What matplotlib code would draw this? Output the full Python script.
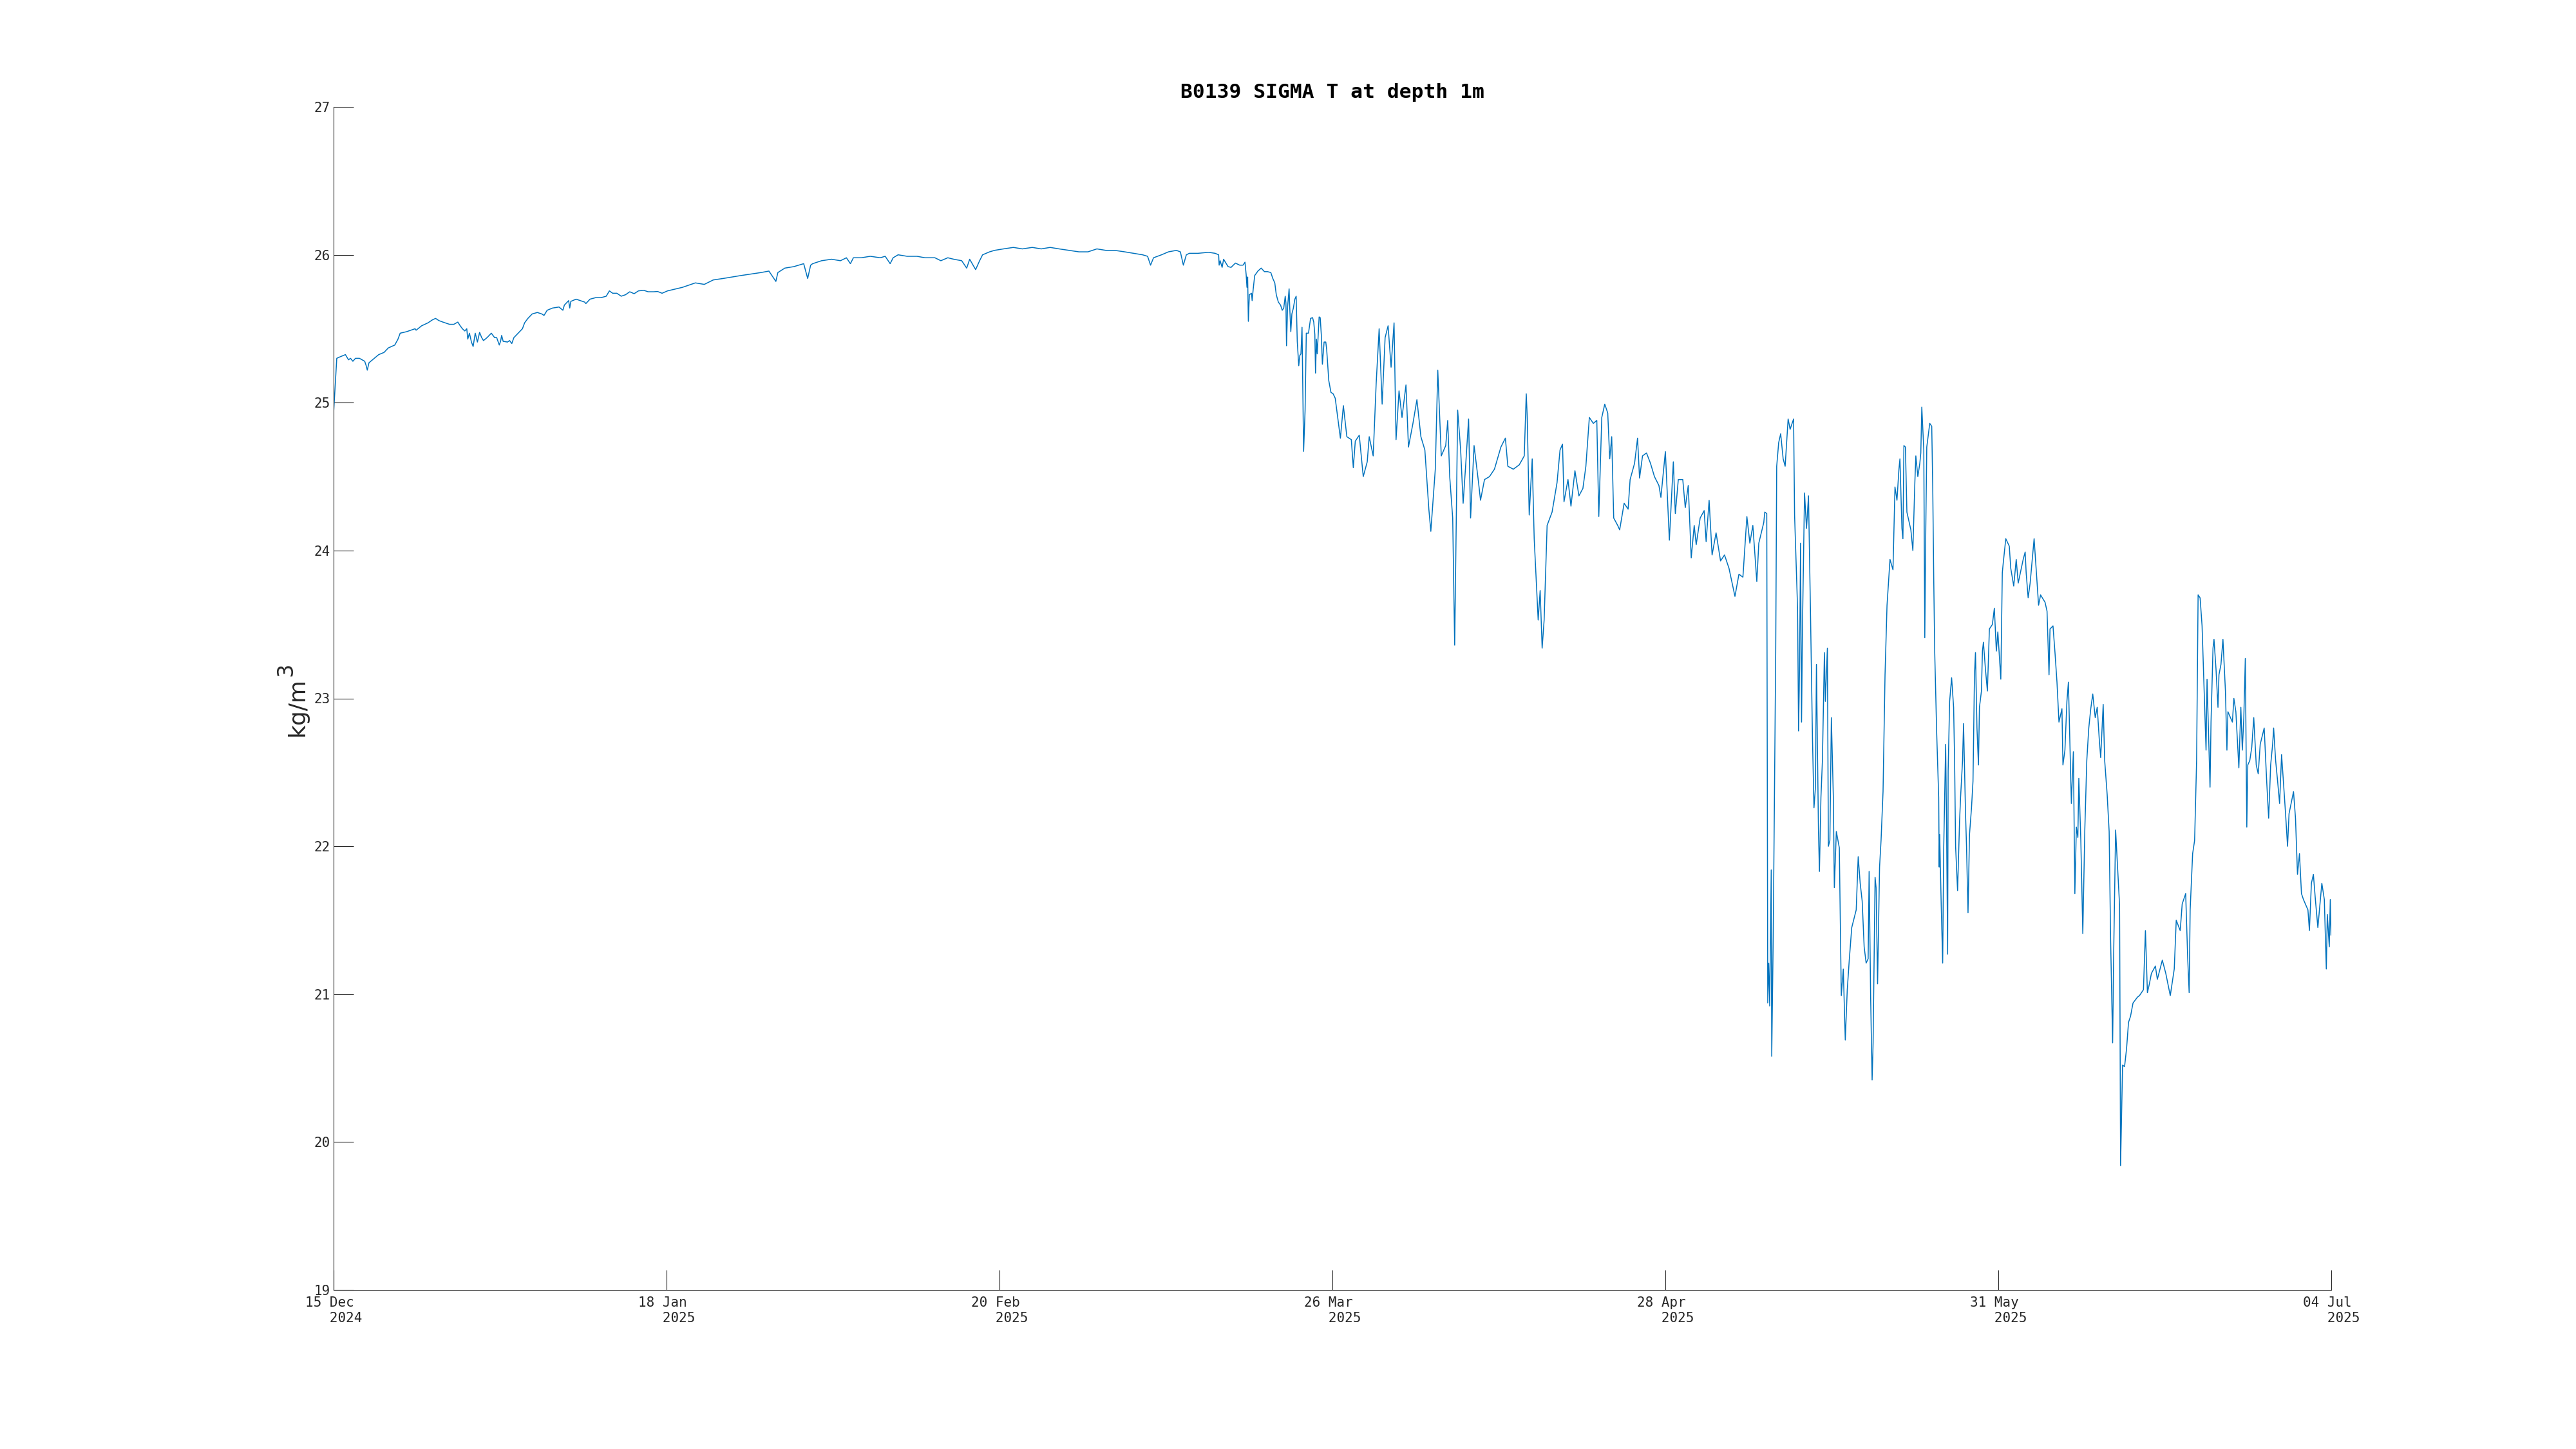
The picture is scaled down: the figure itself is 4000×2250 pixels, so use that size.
import numpy as np
import pandas as pd
import matplotlib
matplotlib.use('Agg')
import matplotlib.pyplot as plt

# sigma-t readings: days since 15 Dec 2024, value in kg/m3
start = pd.Timestamp('2024-12-15')
end = pd.Timestamp('2025-07-04')
days = [
    0.0, 0.32, 0.65, 1.19, 1.5, 1.7, 1.94, 2.2, 2.6, 3.13, 3.28, 3.39, 3.56, 4.1, 4.54, 5.08, 5.5, 6.16, 6.48, 6.7,
    7.34, 8.2, 8.3, 8.86, 9.5, 9.94, 10.26, 10.6, 11.0, 11.66, 12.1, 12.5, 12.74, 12.96, 13.2, 13.4, 13.5, 13.67, 13.87, 14.04,
    14.25, 14.47, 14.69, 14.9, 15.08, 15.44, 15.87, 16.2, 16.41, 16.67, 16.8, 16.91, 17.06, 17.5, 17.71, 17.93, 18.14, 18.57, 19.0, 19.22,
    19.55, 19.98, 20.5, 20.95, 21.17, 21.49, 22.03, 22.68, 23.07, 23.22, 23.65, 23.76, 23.87, 24.4, 24.84, 25.27, 25.38, 25.8, 26.35, 26.9,
    27.43, 27.75, 28.08, 28.5, 28.94, 29.37, 29.8, 30.24, 30.67, 31.2, 31.65, 32.2, 32.6, 33.05, 33.6,
    35.1, 36.4, 37.3, 38.2, 39.2, 40.1, 41.0, 42.0, 43.0, 43.8, 44.5, 44.7, 45.4, 46.3, 47.3, 47.7, 48.0, 48.2, 49.1, 50.1,
    51.0, 51.6, 52.0, 52.3, 53.1, 54.0, 55.0, 55.5, 56.0, 56.3, 56.8, 57.7, 58.7, 59.5, 60.5, 61.1, 61.8, 62.4, 63.2, 63.7,
    64.0, 64.6, 65.0, 65.3, 66.0, 66.5, 67.4, 68.4, 69.3, 70.3, 71.2, 72.1, 73.0, 74.0, 75.0, 75.9, 76.8, 77.7, 78.6, 79.6,
    80.5, 81.4, 81.9, 82.2, 82.5, 83.3, 84.0, 84.8, 85.2, 85.5, 85.8, 86.1,
    86.96, 88.04, 88.7, 89.05, 89.1, 89.2, 89.4, 89.55, 90.0, 90.3, 90.74, 91.17, 91.5, 91.7, 91.82, 91.9, 91.97, 92.04, 92.14, 92.36,
    92.42, 92.53, 92.68, 93.0, 93.33, 93.66, 93.98, 94.3, 94.5, 94.7, 94.85, 95.06, 95.28, 95.45, 95.6, 95.75, 95.82, 95.88, 95.99, 96.14,
    96.2, 96.31, 96.42, 96.57, 96.72, 96.85, 96.96, 97.11, 97.22, 97.33, 97.44, 97.6, 97.75, 97.87, 98.09, 98.3, 98.5, 98.62, 98.73, 98.8,
    98.89, 98.97, 99.16, 99.27, 99.38, 99.49, 99.66, 99.83, 99.92, 100.13, 100.35, 100.57, 100.78,
    101.3, 101.6, 101.95, 102.4, 102.6, 102.8,
    103.2, 103.6, 104.0, 104.2, 104.6, 104.9, 105.2, 105.5, 105.8, 106.1, 106.4, 106.7, 106.9, 107.2, 107.5,
    107.9, 108.15, 108.6, 109.0, 109.4, 109.8, 110.2, 110.4, 110.85, 111.1, 111.45, 111.9, 112.1, 112.3, 112.6,
    112.8, 113.1, 113.4, 113.65, 113.9, 114.2, 114.4, 114.75, 115.2, 115.4, 115.8, 116.3, 116.8, 117.45, 117.9,
    118.15, 118.7, 119.3, 119.8, 120.0, 120.1, 120.3, 120.6, 120.8, 121.2, 121.4, 121.6, 121.8, 122.1, 122.6,
    123.1, 123.4, 123.65, 123.8, 124.2, 124.5, 124.9, 125.3, 125.7, 126.0, 126.35, 126.75, 127.1, 127.3, 127.6,
    127.9, 128.2, 128.4, 128.6, 128.8, 129.2, 129.4, 129.85, 130.25, 130.45, 130.9, 131.2, 131.4, 131.7, 132.1,
    132.5, 132.9, 133.35, 133.55, 134.0, 134.4, 134.8, 135.0, 135.3, 135.75, 136.0, 136.3, 136.6, 136.9, 137.1,
    137.5, 137.9, 138.1, 138.4, 138.7, 139.1, 139.55, 139.95, 140.4, 141.0, 141.4, 141.8, 142.2, 142.5, 142.8,
    143.2, 143.4, 143.9, 144.0, 144.2, 144.3, 144.4, 144.5, 144.65, 144.7, 144.85, 145.1, 145.2, 145.4, 145.6,
    145.85, 146.05, 146.35, 146.55, 146.9, 147.0, 147.3, 147.4, 147.5, 147.6, 147.7, 147.8, 148.0, 148.2, 148.4,
    148.6, 148.8, 148.95, 149.1, 149.2, 149.4, 149.5, 149.65, 149.8, 150.0, 150.1, 150.3, 150.4, 150.55, 150.7,
    150.9, 151.0, 151.2, 151.5, 151.7, 151.9, 152.1, 152.3, 152.5, 152.75, 153.2, 153.4, 153.6, 153.8, 154.0,
    154.2, 154.4, 154.5, 154.65, 154.8, 154.9, 155.1, 155.2, 155.35, 155.55, 155.7, 155.9, 156.1, 156.3, 156.6,
    156.9, 157.1, 157.3, 157.5, 157.6, 157.8, 157.9, 158.0, 158.15, 158.3, 158.7, 158.9, 159.1, 159.2, 159.4,
    159.6, 159.7, 159.8, 160.0, 160.1, 160.2, 160.3, 160.6, 160.8, 160.9, 161.0, 161.1, 161.3, 161.5, 161.55,
    161.6, 161.75, 161.9, 162.0, 162.2, 162.3, 162.4, 162.45, 162.6, 162.8, 163.0, 163.1, 163.2, 163.4, 163.6,
    163.7, 163.9, 164.0, 164.2, 164.3, 164.45, 164.6, 164.8, 164.95, 165.1, 165.2, 165.35, 165.5, 165.6, 165.8,
    165.9, 166.0, 166.2, 166.4, 166.6, 166.9, 167.1, 167.3, 167.45, 167.75, 167.9, 168.0, 168.25, 168.6, 168.75,
    169.05, 169.3, 169.5, 170.0, 170.2, 170.3, 170.5, 170.7, 171.1, 171.3, 171.55, 171.75, 172.2, 172.4, 172.6,
    172.7, 173.0, 173.2, 173.4, 173.6, 173.9, 174.0, 174.2, 174.4, 174.55, 174.7, 174.85, 175.05, 175.2, 175.35,
    175.5, 175.6, 175.8, 176.0, 176.2, 176.4, 176.6, 176.8, 177.0, 177.25, 177.45, 177.65, 177.8, 178.05, 178.2,
    178.45, 178.65, 178.8, 179.0, 179.1, 179.3, 179.55, 179.7, 179.8, 180.0, 180.2, 180.4, 180.6, 180.8, 181.05,
    181.5, 181.7, 181.9, 182.1, 182.3, 182.5, 182.7, 182.9, 183.3, 183.5, 184.0, 184.35, 184.8, 185.2, 185.4,
    185.8, 186.0, 186.35, 186.55, 186.7, 186.8, 187.05, 187.25, 187.45, 187.6, 187.8, 188.0, 188.2, 188.4, 188.5,
    188.8, 188.9, 189.1, 189.2, 189.4, 189.6, 189.7, 189.9, 190.1, 190.35, 190.5, 190.6, 191.05, 191.2, 191.4,
    191.7, 191.9, 192.05, 192.2, 192.35, 192.5, 192.6, 192.8, 193.0, 193.2, 193.45, 193.65, 193.85, 194.25, 194.5,
    194.7, 194.9, 195.1, 195.2, 195.4, 195.6, 195.8, 196.0, 196.2, 196.4, 196.6, 196.75, 197.2, 197.4, 197.6,
    197.8, 198.0, 198.2, 198.65, 198.8, 199.0, 199.2, 199.4, 199.65, 200.05, 200.3, 200.5, 200.6, 200.8, 200.9,
    200.97,
]
sigma_t = [
    24.93, 25.30, 25.31, 25.325, 25.29, 25.30, 25.28, 25.30, 25.30, 25.28, 25.25, 25.22, 25.27, 25.30, 25.325, 25.34, 25.37, 25.39, 25.43, 25.47,
    25.48, 25.50, 25.49, 25.52, 25.54, 25.56, 25.57, 25.555, 25.545, 25.53, 25.53, 25.545, 25.52, 25.50, 25.485, 25.50, 25.43, 25.47, 25.41, 25.38,
    25.47, 25.41, 25.475, 25.44, 25.42, 25.44, 25.47, 25.44, 25.44, 25.39, 25.415, 25.455, 25.415, 25.41, 25.42, 25.40, 25.44, 25.47, 25.50, 25.54,
    25.57, 25.60, 25.61, 25.60, 25.59, 25.625, 25.64, 25.647, 25.625, 25.66, 25.69, 25.64, 25.685, 25.70, 25.69, 25.68, 25.67, 25.70, 25.71, 25.71,
    25.72, 25.756, 25.74, 25.74, 25.72, 25.73, 25.75, 25.737, 25.756, 25.76, 25.75, 25.75, 25.752, 25.74, 25.756,
    25.78, 25.81, 25.80, 25.83, 25.84, 25.85, 25.86, 25.87, 25.88, 25.89, 25.82, 25.88, 25.91, 25.92, 25.94, 25.84, 25.93, 25.94, 25.96, 25.97,
    25.96, 25.98, 25.94, 25.98, 25.98, 25.99, 25.98, 25.99, 25.94, 25.98, 26.00, 25.99, 25.99, 25.98, 25.98, 25.96, 25.98, 25.97, 25.96, 25.91,
    25.97, 25.90, 25.96, 26.00, 26.02, 26.03, 26.04, 26.05, 26.04, 26.05, 26.04, 26.05, 26.04, 26.03, 26.02, 26.02, 26.04, 26.03, 26.03, 26.02,
    26.01, 26.00, 25.99, 25.93, 25.98, 26.00, 26.02, 26.03, 26.02, 25.93, 26.00, 26.01,
    26.01, 26.017, 26.01, 26.00, 25.93, 25.96, 25.915, 25.97, 25.92, 25.915, 25.944, 25.93, 25.93, 25.95, 25.865, 25.78, 25.85, 25.55, 25.73, 25.74,
    25.69, 25.77, 25.86, 25.89, 25.91, 25.886, 25.886, 25.88, 25.84, 25.81, 25.73, 25.68, 25.66, 25.625, 25.64, 25.72, 25.675, 25.385, 25.65, 25.77,
    25.65, 25.48, 25.60, 25.64, 25.70, 25.72, 25.415, 25.25, 25.32, 25.33, 25.51, 24.67, 24.95, 25.47, 25.47, 25.57, 25.575, 25.545, 25.46, 25.20,
    25.43, 25.33, 25.58, 25.575, 25.46, 25.26, 25.41, 25.41, 25.36, 25.15, 25.07, 25.06, 25.03,
    24.76, 24.98, 24.77, 24.75, 24.56, 24.74,
    24.78, 24.50, 24.60, 24.77, 24.64, 25.13, 25.50, 24.99, 25.44, 25.52, 25.24, 25.54, 24.75, 25.08, 24.90,
    25.12, 24.70, 24.86, 25.02, 24.77, 24.68, 24.28, 24.13, 24.55, 25.22, 24.64, 24.71, 24.88, 24.50, 24.22,
    23.36, 24.95, 24.68, 24.32, 24.57, 24.89, 24.22, 24.71, 24.46, 24.34, 24.48, 24.50, 24.55, 24.70, 24.76,
    24.57, 24.55, 24.58, 24.64, 25.06, 24.90, 24.24, 24.62, 24.08, 23.53, 23.73, 23.34, 23.53, 24.17, 24.26,
    24.46, 24.68, 24.72, 24.33, 24.48, 24.30, 24.54, 24.37, 24.42, 24.57, 24.90, 24.86, 24.88, 24.23, 24.90,
    24.99, 24.93, 24.62, 24.77, 24.22, 24.17, 24.14, 24.32, 24.28, 24.48, 24.59, 24.76, 24.49, 24.64, 24.66,
    24.59, 24.50, 24.44, 24.36, 24.67, 24.07, 24.60, 24.25, 24.48, 24.48, 24.29, 24.44, 23.95, 24.17, 24.04,
    24.22, 24.27, 24.06, 24.34, 23.97, 24.12, 23.93, 23.97, 23.88, 23.69, 23.84, 23.82, 24.23, 24.05, 24.17,
    23.79, 24.05, 24.19, 24.26, 24.25, 20.94, 21.21, 20.92, 21.84, 20.58, 21.39, 23.31, 24.57, 24.73, 24.79,
    24.62, 24.57, 24.89, 24.82, 24.89, 24.24, 23.61, 22.78, 23.20, 24.05, 22.84, 23.52, 24.39, 24.15, 24.37,
    23.58, 22.73, 22.26, 22.40, 23.23, 22.11, 21.83, 22.33, 22.58, 23.31, 22.98, 23.34, 22.00, 22.04, 22.87,
    22.33, 21.72, 22.10, 21.99, 20.99, 21.17, 20.69, 21.03, 21.23, 21.45, 21.57, 21.93, 21.75, 21.63, 21.32,
    21.21, 21.24, 21.83, 20.99, 20.42, 20.67, 21.79, 21.72, 21.07, 21.86, 22.04, 22.37, 23.16, 23.63, 23.94,
    23.87, 24.43, 24.34, 24.55, 24.62, 24.15, 24.08, 24.71, 24.70, 24.26, 24.14, 24.00, 24.46, 24.64, 24.50,
    24.59, 24.66, 24.97, 24.68, 23.41, 24.15, 24.70, 24.86, 24.84, 24.43, 23.81, 23.31, 22.76, 22.33, 21.86,
    22.08, 21.61, 21.21, 21.97, 22.69, 22.08, 21.27, 22.51, 22.98, 23.14, 22.94, 22.58, 22.00, 21.70, 22.17,
    22.33, 22.58, 22.83, 22.22, 22.00, 21.55, 22.08, 22.26, 22.44, 23.16, 23.31, 22.80, 22.55, 22.94, 23.05,
    23.32, 23.38, 23.20, 23.05, 23.47, 23.50, 23.61, 23.32, 23.45, 23.13, 23.85, 23.92, 24.08, 24.03, 23.88,
    23.76, 23.94, 23.78, 23.94, 23.99, 23.85, 23.68, 23.78, 24.08, 23.88, 23.63, 23.70, 23.65, 23.59, 23.16,
    23.47, 23.49, 23.31, 23.11, 22.84, 22.93, 22.55, 22.65, 22.98, 23.11, 22.69, 22.29, 22.64, 21.68, 22.13,
    22.06, 22.46, 22.04, 21.41, 22.11, 22.58, 22.80, 22.93, 23.03, 22.87, 22.94, 22.73, 22.60, 22.96, 22.58,
    22.35, 22.10, 21.36, 20.67, 21.25, 22.11, 21.79, 21.60, 19.84, 20.52, 20.51, 20.63, 20.81, 20.85, 20.94,
    20.98, 20.99, 21.01, 21.03, 21.43, 21.01, 21.07, 21.14, 21.19, 21.10, 21.23, 21.14, 20.99, 21.17, 21.50,
    21.43, 21.61, 21.68, 21.25, 21.01, 21.57, 21.95, 22.04, 22.58, 23.70, 23.68, 23.49, 23.07, 22.65, 23.13,
    22.40, 22.84, 23.34, 23.40, 23.20, 22.94, 23.16, 23.23, 23.40, 23.05, 22.65, 22.91, 22.84, 23.00, 22.91,
    22.53, 22.94, 22.65, 22.87, 23.27, 22.13, 22.55, 22.58, 22.67, 22.87, 22.55, 22.49, 22.69, 22.80, 22.44,
    22.19, 22.55, 22.69, 22.80, 22.58, 22.44, 22.29, 22.62, 22.42, 22.22, 22.00, 22.22, 22.37, 22.19, 21.81,
    21.95, 21.68, 21.64, 21.57, 21.43, 21.75, 21.81, 21.64, 21.45, 21.75, 21.64, 21.17, 21.54, 21.32, 21.64,
    21.40,
]

# tick labels as printed on the chart (evenly spaced ticks)
x_day_labels = ['15 Dec', '18 Jan', '20 Feb', '26 Mar', '28 Apr', '31 May', '04 Jul']
x_year_labels = ['2024', '2025', '2025', '2025', '2025', '2025', '2025']
y_ticks = [19, 20, 21, 22, 23, 24, 25, 26, 27]

time = start + pd.to_timedelta(days, unit='D')
tick_pos = pd.date_range(start, end, periods=len(x_day_labels))
tick_labels = [f"{d} \n   {y}" for d, y in zip(x_day_labels, x_year_labels)]

axis_col = '#262626'
mono = 'DejaVu Sans Mono'

fig = plt.figure(figsize=(40, 22.5), dpi=100)
ax = fig.add_axes([0.1295, 0.1098, 0.7755, 0.8164])

ax.plot(time, sigma_t, color='#0072BD', linewidth=1.1)

ax.set_xlim(start, end)
ax.set_ylim(19, 27)
ax.set_xticks(tick_pos)
ax.set_xticklabels(tick_labels, family=mono, fontsize=15, color=axis_col,
                   multialignment='left', linespacing=1.3)
ax.set_yticks(y_ticks)
ax.set_yticklabels([str(v) for v in y_ticks], family=mono, fontsize=15, color=axis_col)

ax.tick_params(direction='in', length=22, width=0.8, color=axis_col, pad=4)
ax.tick_params(axis='x', pad=7)
for side in ['top', 'right']:
    ax.spines[side].set_visible(False)
for side in ['left', 'bottom']:
    ax.spines[side].set_color(axis_col)
    ax.spines[side].set_linewidth(0.8)

ax.set_title('B0139 SIGMA T at depth 1m', family=mono, fontweight='bold',
             fontsize=22.5, pad=10)

# y label with a full-size raised exponent, like the original
fig.text(0.118, 0.492, 'kg/m', rotation=90, rotation_mode='anchor',
         ha='left', va='baseline', fontsize=26, color=axis_col)
fig.text(0.11325, 0.5333, '3', rotation=90, rotation_mode='anchor',
         ha='left', va='baseline', fontsize=24, color=axis_col)

fig.savefig('out.png', dpi=100, facecolor='white')
